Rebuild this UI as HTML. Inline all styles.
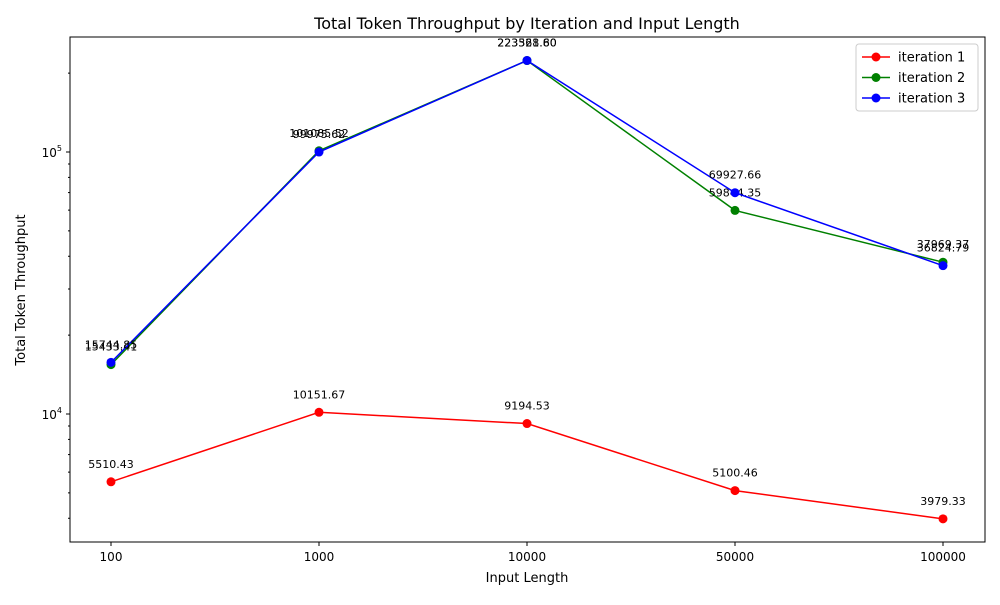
<!DOCTYPE html>
<html><head><meta charset="utf-8"><style>
body{margin:0;background:#fff;font-family:"Liberation Sans","DejaVu Sans",sans-serif}
svg text{font-family:"DejaVu Sans","Liberation Sans",sans-serif}
</style></head><body>
<svg id="chart" width="1000" height="600" xmlns="http://www.w3.org/2000/svg">
<rect width="1000" height="600" fill="#fff"/>
<text x="527" y="29" font-size="16" text-anchor="middle">Total Token Throughput by Iteration and Input Length</text>
<text x="527" y="582" font-size="13" text-anchor="middle">Input Length</text>
<text transform="translate(25,290) rotate(-90)" font-size="13" text-anchor="middle">Total Token Throughput</text>
<g id="plot"></g>
<rect x="70" y="37" width="915" height="505" fill="none" stroke="#000" stroke-width="1"/>
<g id="legend"></g>
</svg>
<script>
const categories=["100","1000","10000","50000","100000"];
const iter1=[5510.43,10151.67,9194.53,5100.46,3979.33];
const iter2=[15433.41,101085.52,223361.60,59844.35,37969.37];
const iter3=[15744.85,99975.62,223528.80,69927.66,36824.79];
const seriesNames=["iteration 1","iteration 2","iteration 3"];
const colors=["#ff0000","#008000","#0000ff"];
const NS="http://www.w3.org/2000/svg";
const plot=document.getElementById('plot');
function X(i){return 111+i*208;}
function Y(v){return 414-(Math.log10(v)-4)*262;}
function mk(tag,attrs,parent){const e=document.createElementNS(NS,tag);for(const k in attrs)e.setAttribute(k,attrs[k]);parent.appendChild(e);return e;}
// x ticks
categories.forEach((c,i)=>{
 const t=mk('line',{x1:X(i),x2:X(i),y1:542,y2:546,stroke:'#000'},plot);
 
 
 const l=mk('text',{x:X(i),y:561,'font-size':12,'text-anchor':'middle'},plot);
 l.textContent=c;
 
 
});
// y ticks (log)
for(let d=3;d<=5;d++){for(let m=1;m<10;m++){const v=m*Math.pow(10,d);const y=Y(v);if(y<37||y>542)continue;
 const major=m===1;
 const t=mk('line',{x1:major?66:68,x2:70,y1:y,y2:y,stroke:'#000'},plot);
 
 
 if(major){const l=mk('text',{x:62,y:y+5,'font-size':12,'text-anchor':'end'},plot);
  l.textContent='10';const s=mk('tspan',{'font-size':8,dy:-6},l);s.textContent=d;
  
  }
}}
[iter1,iter2,iter3].forEach((s,si)=>{
 const p=mk('polyline',{points:s.map((v,i)=>X(i)+','+Y(v)).join(' '),fill:'none',stroke:colors[si],'stroke-width':1.5},plot);
 
 
 s.forEach((v,i)=>{
  const c=mk('circle',{cx:X(i),cy:Y(v),r:4.5,fill:colors[si]},plot);
  
  
  const t=mk('text',{x:X(i),y:Y(v)-14,'font-size':11,'text-anchor':'middle'},plot);
  t.textContent=v.toFixed(2);
  
  
 });
});
const lg=document.getElementById('legend');
mk('rect',{x:856,y:44,width:122,height:67,rx:3,fill:'#fff',stroke:'#ccc'},lg);
seriesNames.forEach((n,i)=>{const y=57+i*20.5;
 const l=mk('line',{x1:862,x2:890,y1:y,y2:y,stroke:colors[i],'stroke-width':1.5},lg);
 
 
 const c=mk('circle',{cx:876,cy:y,r:4.5,fill:colors[i]},lg);
 
 
 const t=mk('text',{x:898,y:y+4.5,'font-size':13},lg);t.textContent=n;
 
 
});
</script>
</body></html>
